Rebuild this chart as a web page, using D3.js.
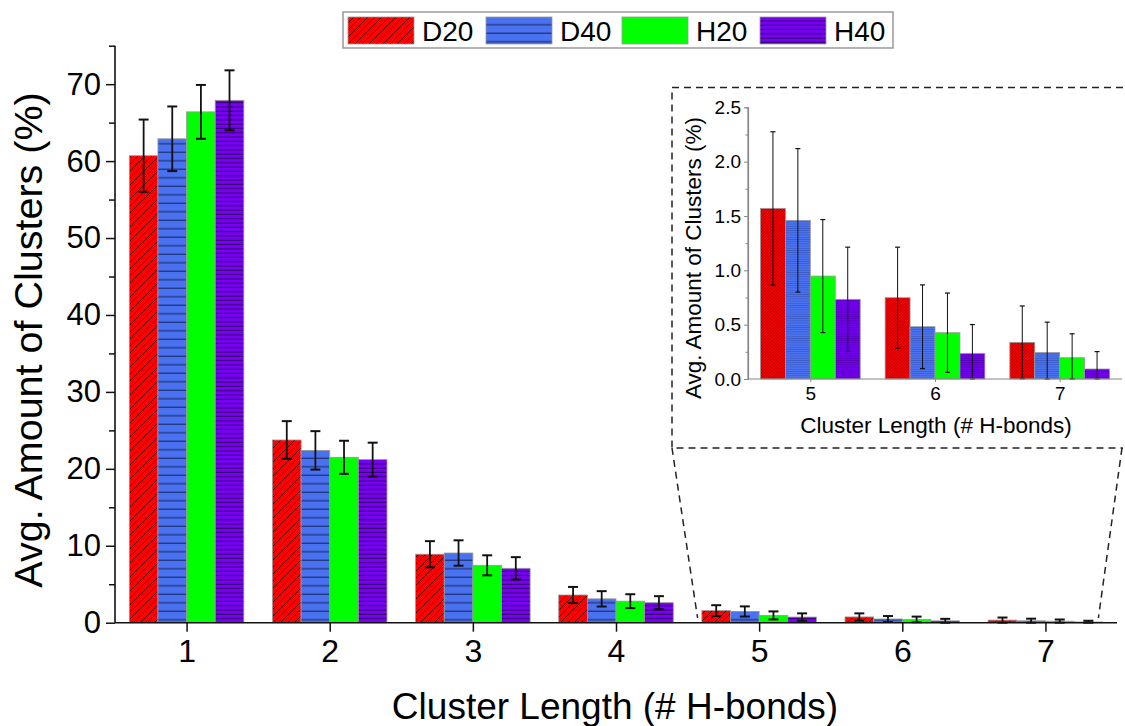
<!DOCTYPE html>
<html>
<head>
<meta charset="utf-8">
<script src="https://cdn.jsdelivr.net/npm/d3@7"></script>
<style>
  body { margin: 0; background: #fff; }
  text { font-family: "Liberation Sans", Arial, sans-serif; fill: #000; }
</style>
</head>
<body>
<div id="chart"></div>
<script>
// DATA ***********************************************
var categories = [1, 2, 3, 4, 5, 6, 7];
var seriesNames = ["D20", "D40", "H20", "H40"];
var d20 = [60.7, 23.75, 8.9, 3.6, 1.57, 0.748, 0.337];
var d20Err = [4.7, 2.45, 1.7, 1.05, 0.705, 0.465, 0.335];
var d40 = [62.9, 22.4, 9.06, 3.1, 1.46, 0.481, 0.243];
var d40Err = [4.2, 2.5, 1.65, 1.0, 0.66, 0.385, 0.28];
var h20 = [66.4, 21.5, 7.46, 2.8, 0.947, 0.426, 0.196];
var h20Err = [3.5, 2.15, 1.3, 0.9, 0.52, 0.365, 0.22];
var h40 = [67.9, 21.2, 7.07, 2.6, 0.733, 0.236, 0.092];
var h40Err = [3.9, 2.2, 1.45, 0.85, 0.48, 0.265, 0.16];
var mainTicks = [0, 10, 20, 30, 40, 50, 60, 70];
var insetCategories = [5, 6, 7];
var insetTicks = [0, 0.5, 1.0, 1.5, 2.0, 2.5];

var values = [d20, d40, h20, h40];
var errors = [d20Err, d40Err, h20Err, h40Err];
var fills = ["url(#hatchRed)", "url(#linesBlue)", "#00ff00", "url(#linesPurple)"];
var fillsSmall = ["url(#hatchRedS)", "url(#linesBlueS)", "#00ff00", "url(#linesPurpleS)"];

var width = 1125, height = 726;

var svg = d3.select("#chart").append("svg")
        .attr("width", width)
        .attr("height", height);

// PATTERNS ***********************************************
var defs = svg.append("defs");

function hatch(id, size, bg, stroke, sw) {
        var p = defs.append("pattern").attr("id", id)
                .attr("patternUnits", "userSpaceOnUse")
                .attr("width", size).attr("height", size);
        p.append("rect").attr("width", size).attr("height", size).attr("fill", bg);
        p.append("path")
                .attr("d", "M0," + size + " L" + size + ",0 M-1,1 L1,-1 M" + (size - 1) + "," + (size + 1) + " L" + (size + 1) + "," + (size - 1))
                .attr("stroke", stroke).attr("stroke-width", sw);
}
function hlines(id, step, bg, stroke, sw) {
        var p = defs.append("pattern").attr("id", id)
                .attr("patternUnits", "userSpaceOnUse")
                .attr("width", 10).attr("height", step);
        p.append("rect").attr("width", 10).attr("height", step).attr("fill", bg);
        p.append("line").attr("x1", 0).attr("x2", 10)
                .attr("y1", step - sw / 2).attr("y2", step - sw / 2)
                .attr("stroke", stroke).attr("stroke-width", sw);
}
hatch("hatchRed", 7, "#ff0000", "#5a0000", 1);
hlines("linesBlue", 8.5, "#4a72f0", "#233a80", 1.4);
hlines("linesPurple", 4.3, "#7a00f5", "#32006a", 1.1);
hatch("hatchRedS", 3, "#f00000", "#a00000", 0.6);
hlines("linesBlueS", 2.2, "#4a72f0", "#3350b0", 0.6);
hlines("linesPurpleS", 2.2, "#7000e8", "#4a00a0", 0.6);

// MAIN CHART ***********************************************
var x = d3.scaleLinear().domain([0.5, 7.5]).range([115, 1117]);
var y = d3.scaleLinear().domain([0, 75]).range([622.7, 45.7]);
var step = x(2) - x(1);
var barW = step * 0.8 / 4;

var main = svg.append("g");

seriesNames.forEach(function (name, s) {
        var g = main.append("g").attr("class", "series-" + name);
        g.selectAll("rect").data(categories).enter().append("rect")
                .attr("x", function (c) { return x(c) - 2 * barW + s * barW; })
                .attr("y", function (c, i) { return y(values[s][i]); })
                .attr("width", barW)
                .attr("height", function (c, i) { return y(0) - y(values[s][i]); })
                .attr("fill", fills[s])
                .attr("stroke", "#999")
                .attr("stroke-width", 0.8);
        var e = g.selectAll("g.err").data(categories).enter().append("g").attr("class", "err");
        function cx(c) { return x(c) - 1.5 * barW + s * barW; }
        function top(c, i) { return y(values[s][i] + errors[s][i]); }
        function bot(c, i) { return y(Math.max(0, values[s][i] - errors[s][i])); }
        e.append("line").attr("x1", cx).attr("x2", cx).attr("y1", top).attr("y2", bot)
                .attr("stroke", "#111").attr("stroke-width", 1.8);
        e.append("line").attr("x1", function (c) { return cx(c) - 5; }).attr("x2", function (c) { return cx(c) + 5; })
                .attr("y1", top).attr("y2", top).attr("stroke", "#111").attr("stroke-width", 2);
        e.append("line").attr("x1", function (c) { return cx(c) - 5; }).attr("x2", function (c) { return cx(c) + 5; })
                .attr("y1", bot).attr("y2", bot).attr("stroke", "#111").attr("stroke-width", 2);
});

// axes
var yAxis = main.append("g").attr("transform", "translate(115,0)")
        .call(d3.axisLeft(y).tickValues(mainTicks).tickSize(9).tickPadding(5));
main.append("g").attr("transform", "translate(115,0)")
        .call(d3.axisLeft(y).tickValues(d3.range(5, 80, 10)).tickSize(6).tickFormat(""));
var xAxis = main.append("g").attr("transform", "translate(0,622.7)")
        .call(d3.axisBottom(x).tickValues(categories).tickSize(9).tickPadding(8).tickFormat(d3.format("d")));
main.selectAll(".domain").attr("stroke", "#111").attr("stroke-width", 1.6).attr("d", null);
yAxis.select(".domain").attr("d", "M0," + y(75) + "V" + y(0));
xAxis.select(".domain").attr("d", "M115,0H1117");
main.selectAll(".tick line").attr("stroke", "#111").attr("stroke-width", 1.5);
yAxis.selectAll(".tick text").attr("font-size", 31).style("font-family", "Liberation Sans, Arial");
xAxis.selectAll(".tick text").attr("font-size", 32).style("font-family", "Liberation Sans, Arial");

main.append("text")
        .attr("transform", "translate(42,340) rotate(-90)")
        .attr("text-anchor", "middle")
        .attr("font-size", 39.5)
        .text("Avg. Amount of Clusters (%)");
main.append("text")
        .attr("x", 615).attr("y", 719)
        .attr("text-anchor", "middle")
        .attr("font-size", 37)
        .text("Cluster Length (# H-bonds)");

// LEGEND ***********************************************
var legend = svg.append("g");
legend.append("rect").attr("x", 343).attr("y", 12).attr("width", 550).attr("height", 36)
        .attr("fill", "#fff").attr("stroke", "#999").attr("stroke-width", 1.5);
var legX = [348, 486, 622, 760];
seriesNames.forEach(function (name, s) {
        legend.append("rect").attr("x", legX[s]).attr("y", 17).attr("width", 66).attr("height", 27)
                .attr("fill", fills[s]).attr("stroke", "#999").attr("stroke-width", 0.8);
        legend.append("text").attr("x", legX[s] + 74).attr("y", 41)
                .attr("font-size", 28).text(name);
});

// ZOOM LINES & INSET BOX ***********************************************
var dash = svg.append("g").attr("stroke", "#222").attr("stroke-width", 1.5)
        .attr("stroke-dasharray", "7,5").attr("fill", "none");
dash.append("path").attr("d", "M1123,87.5 H672 V448 H1123");
dash.append("line").attr("x1", 672).attr("y1", 448).attr("x2", x(4.57)).attr("y2", 618);
dash.append("line").attr("x1", 1122).attr("y1", 448).attr("x2", x(7.37)).attr("y2", 618);

// INSET ***********************************************
var xi = d3.scaleLinear().domain([4.5, 7.5]).range([748, 1122]);
var yi = d3.scaleLinear().domain([0, 2.5]).range([379, 107.3]);
var stepI = xi(6) - xi(5);
var barWI = stepI * 0.8 / 4;
var inset = svg.append("g");

seriesNames.forEach(function (name, s) {
        var g = inset.append("g");
        var vals = values[s].slice(4), errs = errors[s].slice(4);
        g.selectAll("rect").data(insetCategories).enter().append("rect")
                .attr("x", function (c) { return xi(c) - 2 * barWI + s * barWI; })
                .attr("y", function (c, i) { return yi(vals[i]); })
                .attr("width", barWI)
                .attr("height", function (c, i) { return yi(0) - yi(vals[i]); })
                .attr("fill", fillsSmall[s])
                .attr("stroke", "#999")
                .attr("stroke-width", 0.8);
        function cx(c) { return xi(c) - 1.5 * barWI + s * barWI; }
        function top(c, i) { return yi(vals[i] + errs[i]); }
        function bot(c, i) { return yi(Math.max(0, vals[i] - errs[i])); }
        var e = g.selectAll("g.err").data(insetCategories).enter().append("g");
        e.append("line").attr("x1", cx).attr("x2", cx).attr("y1", top).attr("y2", bot)
                .attr("stroke", "#111").attr("stroke-width", 1);
        e.append("line").attr("x1", function (c) { return cx(c) - 2.5; }).attr("x2", function (c) { return cx(c) + 2.5; })
                .attr("y1", top).attr("y2", top).attr("stroke", "#111").attr("stroke-width", 1.2);
        e.append("line").attr("x1", function (c) { return cx(c) - 2.5; }).attr("x2", function (c) { return cx(c) + 2.5; })
                .attr("y1", bot).attr("y2", bot).attr("stroke", "#111").attr("stroke-width", 1.2);
});

var yAxisI = inset.append("g").attr("transform", "translate(748,0)")
        .call(d3.axisLeft(yi).tickValues(insetTicks).tickSize(4).tickPadding(3).tickFormat(d3.format(".1f")));
inset.append("g").attr("transform", "translate(748,0)")
        .call(d3.axisLeft(yi).tickValues([0.25, 0.75, 1.25, 1.75, 2.25]).tickSize(2.5).tickFormat(""));
var xAxisI = inset.append("g").attr("transform", "translate(0,379)")
        .call(d3.axisBottom(xi).tickValues(insetCategories).tickSize(3).tickPadding(5).tickFormat(d3.format("d")));
inset.selectAll(".domain").attr("stroke", "#888").attr("stroke-width", 1.2);
yAxisI.select(".domain").attr("d", "M0," + yi(2.5) + "V" + yi(0));
xAxisI.select(".domain").attr("d", "M748,0H1122");
inset.selectAll(".tick line").attr("stroke", "#888");
inset.selectAll(".tick text").attr("font-size", 19).style("font-family", "Liberation Sans, Arial");

inset.append("text")
        .attr("transform", "translate(701,258) rotate(-90)")
        .attr("text-anchor", "middle")
        .attr("font-size", 22.5)
        .text("Avg. Amount of Clusters (%)");
inset.append("text")
        .attr("x", 936).attr("y", 433)
        .attr("text-anchor", "middle")
        .attr("font-size", 22.5)
        .text("Cluster Length (# H-bonds)");
</script>
</body>
</html>
